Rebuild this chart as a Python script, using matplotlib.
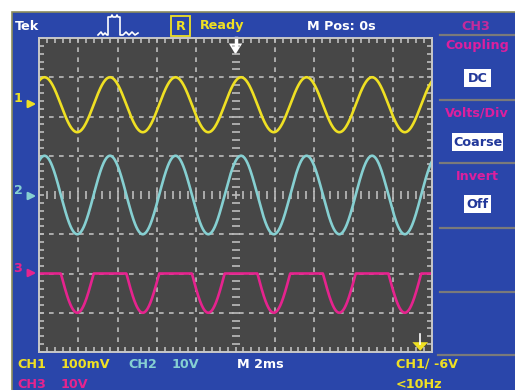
import numpy as np
import matplotlib.pyplot as plt
from matplotlib.patches import Rectangle, Polygon

# scope readings (screen is 10 x 8 divisions, centre = 0)
n_div_x = 10
n_div_y = 8
period_div = 1.667          # one cycle, peak to peak spacing
first_peak_div = 0.14       # first peak of ch1 / ch2

ch1_offset, ch1_amp = 2.3, 0.7
ch2_offset, ch2_amp = 0.0, 1.0
ch3_offset, ch3_amp = -2.0, 1.0      # negative half only, top is flat

# screen texts
top_labels = ['Tek', 'R', 'Ready', 'M Pos: 0s', 'CH3']
menu_titles = ['Coupling', 'Volts/Div', 'Invert']
menu_values = ['DC', 'Coarse', 'Off']
bottom_row1 = ['CH1', '100mV', 'CH2', '10V', 'M 2ms', 'CH1\u2215 -6V']
bottom_row2 = ['CH3', '10V', '<10Hz']
icon_x = [98, 101, 103, 105, 107, 108, 108, 111, 112, 113, 116, 117, 118, 120, 120, 123, 126, 129, 132, 135, 138]
icon_y = [35, 32, 35, 33, 35, 35, 17, 17, 15, 17, 17, 15, 17, 17, 35, 35, 32, 35, 32, 35, 33]

blue = '#2a46aa'
yellow = '#efe023'
cyan = '#86d0d2'
magenta = '#e6238e'
menu_mag = '#dc1f9e'
gridc = '#bcbcbc'

W, H = 515, 390
fig = plt.figure(figsize=(W / 100, H / 100), dpi=100, facecolor='white')

# background / frame in pixel units
bg = fig.add_axes([0, 0, 1, 1])
bg.set_xlim(0, W)
bg.set_ylim(H, 0)
bg.axis('off')
bg.add_patch(Rectangle((11.5, 11.5), W, H, fc=blue, ec='#8c8c5c', lw=1.2))

for y in [35, 100, 163, 228, 292]:
    bg.plot([440, W], [y, y], color='#7a7a7a', lw=1.6)
bg.plot([438, W], [355, 355], color='#7a7a7a', lw=1.6)

fs = 9.2
txt = dict(fontsize=fs, va='center', family='DejaVu Sans', fontweight='bold')
bg.text(15, 26, top_labels[0], color='white', ha='left', **txt)
bg.add_patch(Rectangle((171, 16), 19, 20, fc='none', ec=yellow, lw=1.3))
bg.text(180.5, 26.5, top_labels[1], color=yellow, ha='center', **txt)
bg.text(200, 26, top_labels[2], color=yellow, ha='left', **txt)
bg.text(307, 26, top_labels[3], color='white', ha='left', **txt)
bg.text(476, 26, top_labels[4], color='#c42a9c', ha='center', **txt)
bg.plot(icon_x, icon_y, color='white', lw=1.2)

menu_y = [45, 113, 176]
box_y = [78, 142, 204]
box_w = [27, 51, 27]
for t, v, ty, by, bw in zip(menu_titles, menu_values, menu_y, box_y, box_w):
    bg.text(477, ty, t, color=menu_mag, ha='center', **txt)
    bg.add_patch(Rectangle((477.5 - bw / 2, by - 9), bw, 18, fc='white', ec='none'))
    bg.text(477.5, by + 0.5, v, color='#22389a', ha='center', **txt)

row1_x = [17, 61, 128, 172, 237, 396]
row1_c = [yellow, yellow, cyan, cyan, 'white', yellow]
for t, x, c in zip(bottom_row1, row1_x, row1_c):
    bg.text(x, 364, t, color=c, ha='left', **txt)
row2_x = [17, 61, 396]
row2_c = [magenta, magenta, yellow]
for t, x, c in zip(bottom_row2, row2_x, row2_c):
    bg.text(x, 384, t, color=c, ha='left', **txt)

# channel ground markers on the left
for lab, y, c in [('1', 104, yellow), ('2', 196, cyan), ('3', 273, magenta)]:
    bg.text(18, y - 5, lab, color=c, ha='center', **txt)
    bg.annotate('', xy=(39, y), xytext=(27, y),
                arrowprops=dict(arrowstyle='-|>', color=c, lw=1.6, mutation_scale=11))

# graticule
ax = fig.add_axes([39 / W, (H - 352) / H, 393 / W, 314 / H])
ax.set_facecolor('#474747')
ax.set_xlim(0, n_div_x)
ax.set_ylim(-n_div_y / 2, n_div_y / 2)
for s in ax.spines.values():
    s.set_color('#c8c8c8')
    s.set_linewidth(1.4)
ax.set_xticks(np.arange(0, n_div_x + 0.01, 0.2))
ax.set_yticks(np.arange(-4, 4.01, 0.2))
ax.tick_params(direction='in', length=3.5, width=1.1, color='#c8c8c8',
               top=True, right=True, labelbottom=False, labelleft=False)
for k in range(1, n_div_x):
    if k != n_div_x // 2:
        ax.axvline(k, color=gridc, lw=1.2, ls=(0, (2.8, 3.2)))
for k in range(-3, 4):
    if k != 0:
        ax.axhline(k, color=gridc, lw=1.2, ls=(0, (2.8, 3.2)))
cx = np.arange(0.2, n_div_x, 0.2)
cy = np.arange(-3.8, 4, 0.2)
ax.plot(cx, np.zeros_like(cx), ls='none', marker='|', ms=5.5, mew=1.2, color=gridc)
ax.plot(np.full_like(cy, 5.0), cy, ls='none', marker='_', ms=5.5, mew=1.2, color=gridc)

# traces
t = np.linspace(0, n_div_x, 1200)
phase = np.cos(2 * np.pi * (t - first_peak_div) / period_div)
ax.plot(t, ch1_offset + ch1_amp * phase, color=yellow, lw=1.9)
ax.plot(t, ch2_offset + ch2_amp * phase, color=cyan, lw=1.9)
ax.plot(t, ch3_offset + ch3_amp * np.minimum(phase, 0), color=magenta, lw=1.9)

# trigger markers
ax.add_patch(Polygon([(4.83, 3.86), (5.17, 3.86), (5.0, 3.58)], closed=True,
                     fc='white', ec='none', clip_on=False))
ax.plot([5.0, 5.0], [4.0, 3.83], color='white', lw=2.5, clip_on=False)
ax.plot([9.7, 9.7], [-3.55, -3.8], color='white', lw=1.2)
ax.add_patch(Polygon([(9.5, -3.75), (9.9, -3.75), (9.7, -3.97)], closed=True,
                     fc=yellow, ec='none'))

fig.savefig('out.png', dpi=100, facecolor='white')
